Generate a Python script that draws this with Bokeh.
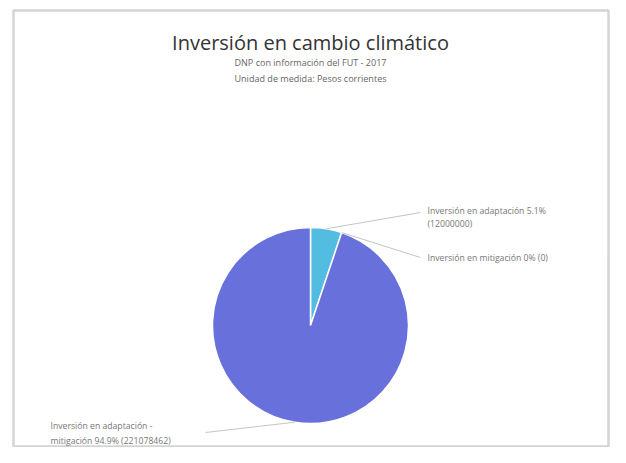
import math
from bokeh.plotting import figure
from bokeh.models import Range1d, ColumnDataSource
from bokeh.core.properties import value
from bokeh.embed import file_html
from bokeh.resources import INLINE

# ---- data ----
categories = ["Inversión en adaptación", "Inversión en mitigación", "Inversión en adaptación - mitigación"]
amounts = [12000000, 0, 221078462]
pct_labels = ["5.1%", "0%", "94.9%"]
colors = ["#52BDE0", "#F2C80F", "#6870DC"]

title_text = "Inversión en cambio climático"
subtitle_lines = ["DNP con información del FUT - 2017", "Unidad de medida: Pesos corrientes"]

W, H = 610, 447
FONT = "Open Sans"


def Y(py):
    return H - py


p = figure(width=W, height=H, output_backend="svg", toolbar_location=None,
           x_range=Range1d(0, W), y_range=Range1d(0, H),
           min_border=0, match_aspect=False)
p.axis.visible = False
p.grid.visible = False
p.outline_line_color = None
p.background_fill_color = "white"
p.border_fill_color = "white"

# card frame
p.quad(left=[13], right=[W - 2], bottom=[1], top=[Y(10)], fill_color=None,
       line_color="#d4d4d4", line_width=2.5)

# pie geometry (layout)
cx, cy, r = 310, Y(325), 98
total = sum(amounts)
starts, ends = [], []
a = math.pi / 2
for v in amounts:
    sweep = 2 * math.pi * v / total
    starts.append(a)
    ends.append(a - sweep)
    a -= sweep

keep = [i for i, v in enumerate(amounts) if v > 0]
src = ColumnDataSource(dict(start=[starts[i] for i in keep], end=[ends[i] for i in keep],
                            color=[colors[i] for i in keep],
                            x=[cx] * len(keep), y=[cy] * len(keep)))
p.wedge(x="x", y="y", radius=r, start_angle="end", end_angle="start",
        fill_color="color", line_color="white", line_width=1.5, source=src)

# leader lines + labels
line_ends = [(420, Y(212)), (420, Y(257)), (205, Y(432))]
text_pos = [(427, [Y(210), Y(223)]), (427, [Y(257)]), (50, [Y(425), Y(440)])]
label_texts = [
    [f"{categories[0]} {pct_labels[0]}", f"({amounts[0]})"],
    [f"{categories[1]} {pct_labels[1]} ({amounts[1]})"],
    ["Inversión en adaptación -", f"mitigación {pct_labels[2]} ({amounts[2]})"],
]
for i, v in enumerate(amounts):
    mid = (starts[i] + ends[i]) / 2
    ex, ey = cx + r * math.cos(mid), cy + r * math.sin(mid)
    lx, ly = line_ends[i]
    p.line([ex, lx], [ey, ly], line_color="#c4c4c4", line_width=1)
    tx, tys = text_pos[i]
    p.text(x=[tx] * len(tys), y=tys, text=label_texts[i], text_font=value(FONT),
           text_font_size="6.5pt", text_color="#777777", text_baseline="middle",
           text_align="left")

# title / subtitles
p.text(x=[310], y=[Y(42)], text=[title_text], text_font=value(FONT),
       text_font_size="15pt", text_color="#333333", text_align="center",
       text_baseline="middle")
p.text(x=[310] * 2, y=[Y(62), Y(78)], text=subtitle_lines, text_font=value(FONT),
       text_font_size="6.8pt", text_color="#666666", text_align="center",
       text_baseline="middle")

open("out.html", "w").write(file_html(p, INLINE))
